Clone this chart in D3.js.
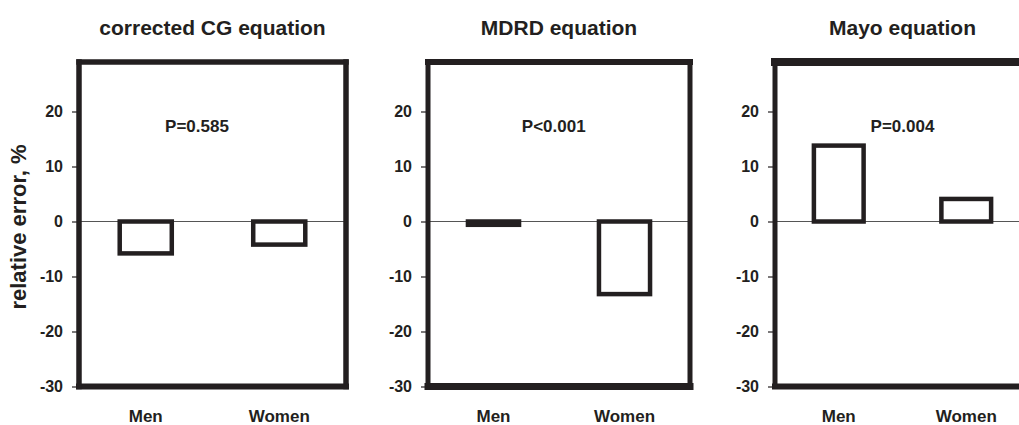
<!DOCTYPE html>
<html>
<head>
<meta charset="utf-8">
<script src="https://cdn.jsdelivr.net/npm/d3@7"></script>
<style>
  body { margin: 0; background: #fff; }
  svg text { font-family: "Liberation Sans", Arial, Helvetica, sans-serif; font-weight: bold; fill: #231f20; }
</style>
</head>
<body>
<div id="chart"></div>
<script>
// data
const categories = ["Men", "Women"];
const panelTitles = ["corrected CG equation", "MDRD equation", "Mayo equation"];
const pLabels = ["P=0.585", "P<0.001", "P=0.004"];
const errCG = [-5.8, -4.2];
const errMDRD = [-0.6, -13.2];
const errMayo = [13.8, 4.1];
const yTicks = [-30, -20, -10, 0, 10, 20];
const yDomain = [-30, 29];

const series = [errCG, errMDRD, errMayo];

// layout
const width = 1019, height = 425;
const plotTop = 62, plotBottom = 386.5;
const panelLeft = [79, 428, 775];
const panelRight = [346, 690, 1030];
const pLabelPos = [0.442, 0.48, 0.5];
const pLabelY = 16.2;
// frame stroke widths: top, right, bottom, left
const frameW = [[5.5, 5.5, 6, 5.5], [6, 5, 7, 5], [8, 5, 6, 5]];
const ink = "#231f20";

const svg = d3.select("#chart").append("svg")
  .attr("width", width)
  .attr("height", height);

const y = d3.scaleLinear().domain(yDomain).range([plotBottom, plotTop]);

series.forEach((vals, i) => {
  const x0 = panelLeft[i], x1 = panelRight[i];
  const x = d3.scaleBand()
    .domain(categories)
    .range([x0, x1])
    .paddingInner(0.61)
    .paddingOuter(0.305);

  const g = svg.append("g").attr("class", "panel");

  // title
  g.append("text")
    .attr("x", (x0 + x1) / 2)
    .attr("y", 35)
    .attr("text-anchor", "middle")
    .style("font-size", "21px")
    .text(panelTitles[i]);

  // zero line
  g.append("line")
    .attr("x1", x0).attr("x2", x1)
    .attr("y1", y(0)).attr("y2", y(0))
    .attr("stroke", "#555")
    .attr("stroke-width", 1.2);

  // bars
  g.selectAll("rect.bar")
    .data(vals)
    .enter()
    .append("rect")
    .attr("class", "bar")
    .attr("x", (d, j) => x(categories[j]))
    .attr("width", x.bandwidth())
    .attr("y", (d) => y(Math.max(0, d)))
    .attr("height", (d) => Math.abs(y(d) - y(0)))
    .attr("fill", "#fff")
    .attr("stroke", ink)
    .attr("stroke-width", 4.5);

  // P value
  g.append("text")
    .attr("x", x0 + (x1 - x0) * pLabelPos[i])
    .attr("y", y(pLabelY))
    .attr("text-anchor", "middle")
    .style("font-size", "17px")
    .text(pLabels[i]);

  // frame
  const fw = frameW[i];
  const sides = [
    [x0, plotTop, x1, plotTop, fw[0]],
    [x1, plotTop, x1, plotBottom, fw[1]],
    [x0, plotBottom, x1, plotBottom, fw[2]],
    [x0, plotTop, x0, plotBottom, fw[3]]
  ];
  g.selectAll("line.frame")
    .data(sides)
    .enter()
    .append("line")
    .attr("class", "frame")
    .attr("x1", (d) => d[0]).attr("y1", (d) => d[1])
    .attr("x2", (d) => d[2]).attr("y2", (d) => d[3])
    .attr("stroke", ink)
    .attr("stroke-width", (d) => d[4])
    .attr("stroke-linecap", "square");

  // y axis (plain hyphen for negatives, as in the original)
  const yAxis = g.append("g")
    .attr("transform", `translate(${x0},0)`)
    .call(d3.axisLeft(y).tickValues(yTicks).tickSize(7).tickPadding(9)
      .tickFormat((d) => String(d)));
  yAxis.select(".domain").remove();
  yAxis.selectAll(".tick line").attr("stroke", ink).attr("stroke-width", 1.2);
  yAxis.selectAll(".tick text")
    .style("font-size", "16px")
    .attr("fill", ink);

  // x axis
  const xAxis = g.append("g")
    .attr("transform", `translate(0,${plotBottom})`)
    .call(d3.axisBottom(x).tickSize(0).tickPadding(23));
  xAxis.select(".domain").remove();
  xAxis.selectAll(".tick text")
    .style("font-size", "17px")
    .attr("fill", ink);
});

// y axis title
svg.append("text")
  .attr("transform", "translate(26,227) rotate(-90)")
  .attr("text-anchor", "middle")
  .style("font-size", "22px")
  .text("relative error, %");
</script>
</body>
</html>
